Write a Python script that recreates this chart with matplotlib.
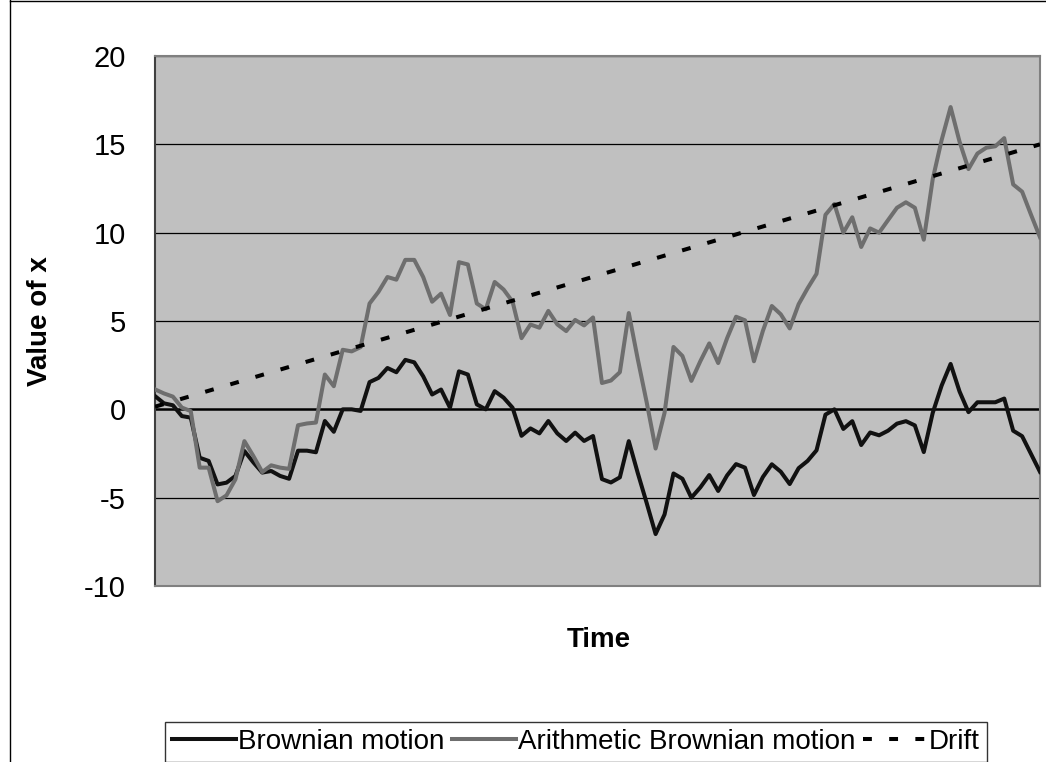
import numpy as np
import matplotlib
matplotlib.use("Agg")
import matplotlib.pyplot as plt
from matplotlib.lines import Line2D

plt.rcParams['font.family'] = ['Liberation Sans', 'DejaVu Sans']

# values, time steps 1..100
brownian = [0.75, 0.34, 0.23, -0.38, -0.47, -2.74, -2.92, -4.25, -4.15, -3.77,
            -2.36, -3.0, -3.58, -3.49, -3.77, -3.93, -2.34, -2.34, -2.43, -0.66,
            -1.27, 0.0, 0.0, -0.09, 1.54, 1.78, 2.34, 2.1, 2.8, 2.66,
            1.87, 0.84, 1.12, 0.09, 2.15, 1.97, 0.28, 0.0, 1.03, 0.66,
            0.09, -1.5, -1.08, -1.36, -0.66, -1.36, -1.79, -1.32, -1.79, -1.51,
            -3.95, -4.14, -3.85, -1.8, -3.6, -5.3, -7.06, -5.95, -3.63, -3.93,
            -5.0, -4.42, -3.72, -4.62, -3.74, -3.1, -3.3, -4.85, -3.83, -3.11,
            -3.53, -4.23, -3.33, -2.92, -2.32, -0.3, 0.0, -1.11, -0.67, -2.02,
            -1.31, -1.47, -1.21, -0.81, -0.67, -0.91, -2.42, -0.2, 1.35, 2.57,
            1.01, -0.16, 0.4, 0.4, 0.4, 0.61, -1.21, -1.52, -2.53, -3.54]

arithmetic = [1.13, 0.9, 0.72, 0.1, -0.1, -3.3, -3.3, -5.2, -4.87, -3.96,
              -1.8, -2.64, -3.55, -3.17, -3.3, -3.37, -0.9, -0.8, -0.75, 1.97,
              1.31, 3.37, 3.28, 3.52, 5.99, 6.65, 7.49, 7.34, 8.46, 8.46,
              7.49, 6.09, 6.55, 5.34, 8.33, 8.2, 5.99, 5.66, 7.21, 6.78,
              6.09, 4.03, 4.8, 4.62, 5.57, 4.81, 4.43, 5.06, 4.75, 5.2,
              1.49, 1.63, 2.1, 5.45, 2.85, 0.4, -2.22, -0.2, 3.53, 3.02,
              1.61, 2.72, 3.73, 2.62, 4.03, 5.24, 5.04, 2.72, 4.44, 5.85,
              5.38, 4.58, 5.95, 6.85, 7.67, 11.01, 11.62, 10.0, 10.87, 9.19,
              10.24, 10.0, 10.71, 11.41, 11.72, 11.41, 9.6, 13.03, 15.25, 17.11,
              15.15, 13.6, 14.48, 14.81, 14.89, 15.35, 12.73, 12.32, 11.01, 9.74]

drift = [0.15, 0.3, 0.45, 0.6, 0.75, 0.9, 1.05, 1.2, 1.35, 1.5,
         1.65, 1.8, 1.95, 2.1, 2.25, 2.4, 2.55, 2.7, 2.85, 3.0,
         3.15, 3.3, 3.45, 3.6, 3.75, 3.9, 4.05, 4.2, 4.35, 4.5,
         4.65, 4.8, 4.95, 5.1, 5.25, 5.4, 5.55, 5.7, 5.85, 6.0,
         6.15, 6.3, 6.45, 6.6, 6.75, 6.9, 7.05, 7.2, 7.35, 7.5,
         7.65, 7.8, 7.95, 8.1, 8.25, 8.4, 8.55, 8.7, 8.85, 9.0,
         9.15, 9.3, 9.45, 9.6, 9.75, 9.9, 10.05, 10.2, 10.35, 10.5,
         10.65, 10.8, 10.95, 11.1, 11.25, 11.4, 11.55, 11.7, 11.85, 12.0,
         12.15, 12.3, 12.45, 12.6, 12.75, 12.9, 13.05, 13.2, 13.35, 13.5,
         13.65, 13.8, 13.95, 14.1, 14.25, 14.4, 14.55, 14.7, 14.85, 15.0]

yticks = [-10, -5, 0, 5, 10, 15, 20]
t = np.arange(1, len(brownian) + 1)

fig = plt.figure(figsize=(10.46, 7.62), dpi=100)
ax = fig.add_axes([155/1046, 1 - 586/762, 885/1046, 530/762])
ax.set_facecolor('#C0C0C0')

for v in yticks:
    if v == 0:
        ax.axhline(v, color='black', lw=1.8, zorder=1)
    else:
        ax.axhline(v, color='black', lw=0.9, zorder=1)

ax.plot(t, brownian, color='#111111', lw=2.9, label='Brownian motion', zorder=3)
ax.plot(t, arithmetic, color='#6E6E6E', lw=2.9, label='Arithmetic Brownian motion', zorder=3)
ax.plot(t, drift, color='black', lw=2.9, dashes=(2.2, 4.3), dash_capstyle='butt',
        label='Drift', zorder=4)

ax.set_xlim(1, 100)
ax.set_ylim(-10, 20)
ax.set_xticks([])
ax.set_yticks(yticks)
ax.set_yticklabels([str(v) for v in yticks], fontsize=21)
ax.tick_params(axis='y', length=0, pad=21)
for s in ['top', 'right', 'bottom']:
    ax.spines[s].set_color('#808080')
    ax.spines[s].set_linewidth(1.5)
ax.spines['left'].set_color('#404040')
ax.spines['left'].set_linewidth(1.5)

fig.text(40/1046, 1 - 321/762, 'Value of x', rotation=90, fontsize=20, fontweight='bold',
         ha='center', va='center')
fig.text(599/1046, 1 - 640/762, 'Time', fontsize=20, fontweight='bold', ha='center', va='center')

leg = fig.legend(loc='center', bbox_to_anchor=(576/1046, 1 - 742/762), ncol=3, fontsize=20,
                 frameon=True, fancybox=False, handlelength=2.3, handletextpad=0.05,
                 columnspacing=0.3, borderpad=0.25, borderaxespad=0)
leg.get_frame().set_edgecolor('black')
leg.get_frame().set_linewidth(1.0)

# chart area border
fig.add_artist(Line2D([10/1046, 10/1046], [0, 1], color='black', lw=1))
fig.add_artist(Line2D([10/1046, 1], [1 - 1/762, 1 - 1/762], color='black', lw=1))

fig.savefig('out.png', dpi=100)
